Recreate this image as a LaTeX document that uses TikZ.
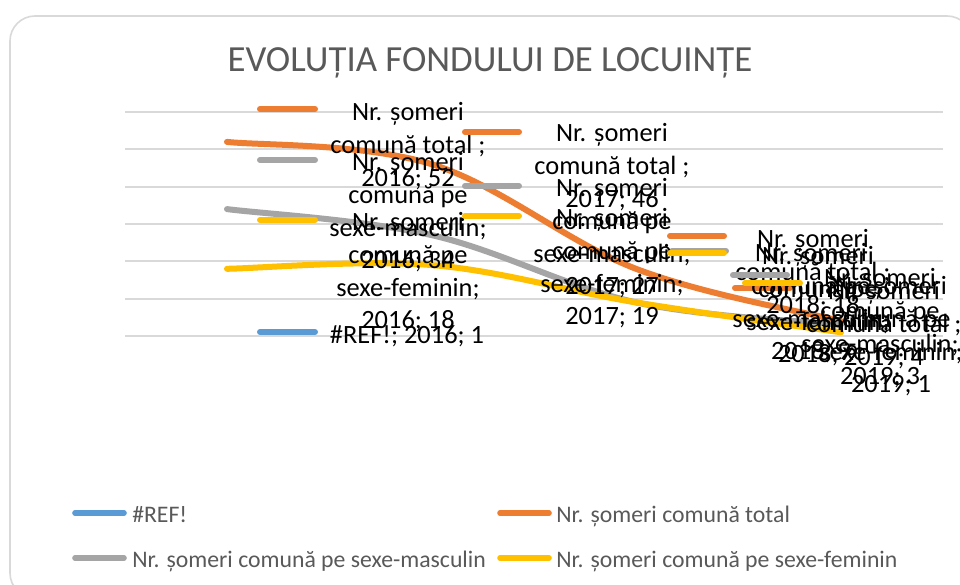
\documentclass[tikz,border=0pt]{standalone}
\usepackage{fontspec}
\setmainfont{Carlito}
\definecolor{cOr}{HTML}{ED7D31}
\definecolor{cGr}{HTML}{A5A5A5}
\definecolor{cYe}{HTML}{FFC000}
\definecolor{cBl}{HTML}{5B9BD5}
\definecolor{cGrid}{HTML}{D9D9D9}
\definecolor{cTxt}{HTML}{595959}
\begin{document}
\begin{tikzpicture}[x=0.75pt,y=-0.75pt,
  gridline/.style={draw=cGrid,line width=1.4pt},
  series/.style={line width=4.5pt,line cap=round,line join=round},
  lkey/.style={line width=4.5pt,line cap=round},
  legkey/.style={line width=4.2pt,line cap=round},
  dlab/.style={font=\fontsize{19.8}{24.5}\selectfont,align=center,inner sep=0pt,anchor=north,text=black},
  legtext/.style={font=\fontsize{17.8}{21}\selectfont,text=cTxt,anchor=base west,inner sep=0pt},
  titletext/.style={font=\fontsize{27.6}{32}\selectfont,text=cTxt,anchor=base,inner sep=0pt}]
\useasboundingbox (0,0) rectangle (960,585);
\fill[white] (0,0) rectangle (960,585);
% frame
\draw[cGrid,line width=1.2pt,rounded corners=18.75pt] (10,16) rectangle (972,598);
% title
\node[titletext] (title) at (490,72) {EVOLUȚIA FONDULUI DE LOCUINȚE};
% gridlines
\foreach \gy in {112,149.3,186.7,224,261.3,298.7,336}
  \draw[gridline] (125,\gy) -- (943,\gy);
% data points
\coordinate (o16) at (227,141.9); \coordinate (o17) at (432,164.3);
\coordinate (o18) at (636,268.8); \coordinate (o19) at (841,321.1);
\coordinate (g16) at (227,209.1); \coordinate (g17) at (432,235.2);
\coordinate (g18) at (636,302.4); \coordinate (g19) at (841,324.8);
\coordinate (y16) at (227,268.8); \coordinate (y17) at (432,265.1);
\coordinate (y18) at (636,302.4); \coordinate (y19) at (841,332.3);
% series
\draw[series,cOr] (o16) .. controls (261.2,145.6) and (363.8,143.2) .. (o17)
  .. controls (500.2,185.4) and (567.8,242.7) .. (o18)
  .. controls (704.2,294.9) and (806.8,312.4) .. (o19);
\draw[series,cGr] (g16) .. controls (261.2,213.5) and (363.8,219.7) .. (g17)
  .. controls (500.2,250.8) and (567.8,287.5) .. (g18)
  .. controls (704.2,317.3) and (806.8,321.1) .. (g19);
\draw[series,cYe] (y16) .. controls (261.2,268.2) and (363.8,259.5) .. (y17)
  .. controls (500.2,270.7) and (567.8,291.2) .. (y18)
  .. controls (704.2,313.6) and (806.8,327.3) .. (y19);
% data labels: #REF!
\draw[lkey,cBl] (260,332) -- (315,332);
\node[dlab] (lb16) at (407,320.6) {\strut\#REF!; 2016; 1};
% total
\draw[lkey,cOr] (260,109) -- (315,109);
\node[dlab] (lo16) at (408,97.6) {\strut Nr. șomeri\\comună total ;\\2016; 52};
\draw[lkey,cOr] (465,132) -- (519,132);
\node[dlab] (lo17) at (612,118.6) {\strut Nr. șomeri\\comună total ;\\2017; 46};
\draw[lkey,cOr] (670,236) -- (724,236);
\node[dlab] (lo18) at (813,224.6) {\strut Nr. șomeri\\comună total ;\\2018; 18};
\draw[lkey,cOr] (735,288) -- (790,288);
\node[dlab] (lo19) at (884,276.6) {\strut Nr. șomeri\\comună total ;\\2019; 4};
% masculin
\draw[lkey,cGr] (260,160) -- (315,160);
\node[dlab] (lg16) at (408,147.6) {\strut Nr. șomeri\\comună pe\\sexe-masculin;\\2016; 34};
\draw[lkey,cGr] (465,186) -- (519,186);
\node[dlab] (lg17) at (612,173.6) {\strut Nr. șomeri\\comună pe\\sexe-masculin;\\2017; 27};
\draw[lkey,cGr] (672,251) -- (726,251);
\node[dlab] (lg18) at (811,238.6) {\strut Nr. șomeri\\comună pe\\sexe-masculin;\\2018; 9};
\draw[lkey,cGr] (733,275) -- (787,275);
\node[dlab] (lg19) at (880,263.6) {\strut Nr. șomeri\\comună pe\\sexe-masculin;\\2019; 3};
% feminin
\draw[lkey,cYe] (260,220) -- (315,220);
\node[dlab] (ly16) at (408,207.6) {\strut Nr. șomeri\\comună pe\\sexe-feminin;\\2016; 18};
\draw[lkey,cYe] (465,216) -- (519,216);
\node[dlab] (ly17) at (612,203.6) {\strut Nr. șomeri\\comună pe\\sexe-feminin;\\2017; 19};
\draw[lkey,cYe] (670,253) -- (724,253);
\node[dlab] (ly18) at (818,241.6) {\strut Nr. șomeri\\comună pe\\sexe-feminin;\\2018; 9};
\draw[lkey,cYe] (745,283) -- (800,283);
\node[dlab] (ly19) at (891,271.6) {\strut Nr. șomeri\\comună pe\\sexe-feminin;\\2019; 1};
% legend
\draw[legkey,cBl] (75,513) -- (124,513);
\node[legtext] (leg1) at (132,522) {\#REF!};
\draw[legkey,cOr] (500,513) -- (549,513);
\node[legtext] (leg2) at (556,522) {Nr. șomeri comună total};
\draw[legkey,cGr] (75,558) -- (124,558);
\node[legtext] (leg3) at (132,567) {Nr. șomeri comună pe sexe-masculin};
\draw[legkey,cYe] (500,558) -- (549,558);
\node[legtext] (leg4) at (556,567) {Nr. șomeri comună pe sexe-feminin};
\end{tikzpicture}
\end{document}
